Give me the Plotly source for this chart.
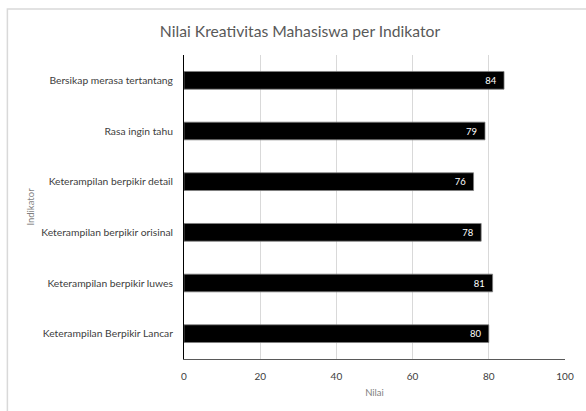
import plotly.graph_objects as go

categories = [
    "Keterampilan Berpikir Lancar",
    "Keterampilan berpikir luwes",
    "Keterampilan berpikir orisinal",
    "Keterampilan berpikir detail",
    "Rasa ingin tahu",
    "Bersikap merasa tertantang",
]
values = [80, 81, 78, 76, 79, 84]
x_ticks = [0, 20, 40, 60, 80, 100]

FONT = "Lato, Open Sans, sans-serif"

fig = go.Figure()
fig.add_trace(go.Bar(
    y=categories,
    x=values,
    orientation="h",
    marker=dict(color="#000000", line=dict(color="#7f7f7f", width=0.75)),
    texttemplate="%{x}\u00a0\u00a0",
    textposition="inside",
    insidetextanchor="end",
    textangle=0,
    constraintext="none",
    textfont=dict(color="#ffffff", size=9.5, family=FONT),
    cliponaxis=False,
))

fig.update_layout(
    width=586, height=411,
    margin=dict(l=184, r=18, t=55, b=52),
    paper_bgcolor="#ffffff",
    plot_bgcolor="#ffffff",
    bargap=0.65,
    showlegend=False,
    font=dict(family=FONT, color="#595959"),
    title=dict(
        text="Nilai Kreativitas Mahasiswa per Indikator",
        x=0.512, xanchor="center", xref="container",
        y=1 - 32 / 411, yanchor="middle",
        font=dict(size=15.7, color="#595959", family=FONT),
    ),
    xaxis=dict(
        range=[0, 100],
        tickvals=x_ticks,
        showgrid=True, gridcolor="#d9d9d9", gridwidth=1,
        zeroline=False,
        showline=True, linecolor="#595959", linewidth=1,
        tickfont=dict(size=10, color="#404040"),
        ticklabelstandoff=8,
        title=dict(text="Nilai", font=dict(size=9.5, color="#7f7f7f"), standoff=8),
        fixedrange=True,
    ),
    yaxis=dict(
        categoryorder="array", categoryarray=categories,
        showgrid=False, zeroline=False,
        showline=True, linecolor="#000000", linewidth=1,
        tickfont=dict(size=10.3, color="#404040"),
        ticklabelstandoff=8,
        title=dict(text="Indikator", font=dict(size=9.5, color="#7f7f7f"), standoff=4),
        fixedrange=True,
    ),
    shapes=[dict(
        type="rect", xref="paper", yref="paper",
        x0=(6 - 184) / 384, x1=(600 - 184) / 384,
        y0=(359 - 420) / 304, y1=(359 - 9) / 304,
        line=dict(color="#d9d9d9", width=1.5),
        fillcolor="rgba(0,0,0,0)", layer="below",
    )],
)

fig.write_html(
    "out.html",
    config={"displayModeBar": False},
    post_script="document.body.style.margin='0';",
)
